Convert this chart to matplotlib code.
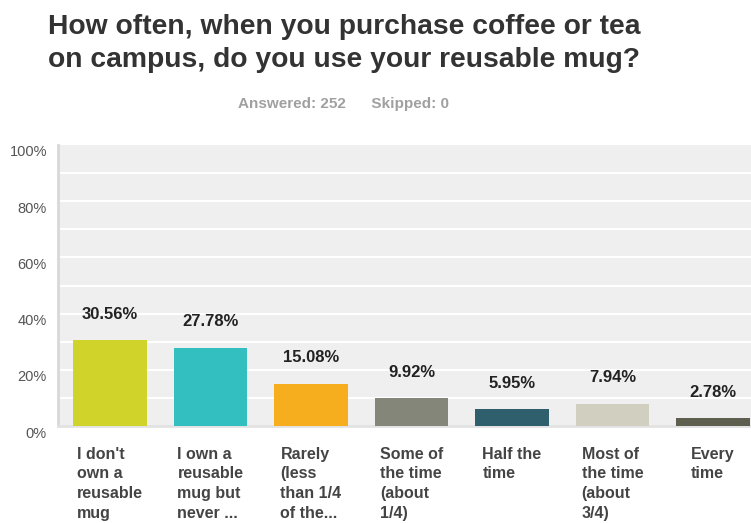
import matplotlib
matplotlib.use("Agg")
import matplotlib.pyplot as plt
import matplotlib.transforms as mtransforms
import numpy as np

plt.rcParams['font.family'] = ['Liberation Sans', 'DejaVu Sans']

# survey answers and their share of respondents (%)
answers = ["I don't\nown a\nreusable\nmug",
           "I own a\nreusable\nmug but\nnever ...",
           "Rarely\n(less\nthan 1/4\nof the...",
           "Some of\nthe time\n(about\n1/4)",
           "Half the\ntime",
           "Most of\nthe time\n(about\n3/4)",
           "Every\ntime"]
shares = [30.56, 27.78, 15.08, 9.92, 5.95, 7.94, 2.78]
bar_colors = ['#D0D42A', '#33BEBF', '#F6AE1F', '#84867A', '#2F5F6C', '#D1CFC0', '#5F5F50']
yticks = [0, 20, 40, 60, 80, 100]
title_lines = ['How often, when you purchase coffee or tea',
               'on campus, do you use your reusable mug?']

fig = plt.figure(figsize=(7.51, 5.23), dpi=100)
ax = fig.add_axes([58 / 751, 97 / 523, 1 - 58 / 751, 281 / 523])
ax.set_facecolor('#EFEFEF')

x = np.arange(len(shares))
ax.bar(x, shares, width=0.73, color=bar_colors, zorder=3)

# white grid every 10%
for g in range(10, 100, 10):
    ax.axhline(g, color='white', lw=1.5, zorder=1)

ax.set_xlim(-0.517, 6.378)
ax.set_ylim(0, 100)
ax.set_yticks(yticks)
ax.set_yticklabels([f'{t}%' for t in yticks], color='#555555', fontsize=10.5)
ax.tick_params(axis='y', length=0, pad=8)
ax.set_xticks([])
shift = mtransforms.ScaledTranslation(0, -6 / 100, fig.dpi_scale_trans)
for lbl in ax.get_yticklabels():
    lbl.set_transform(lbl.get_transform() + shift)

for side in ['top', 'right']:
    ax.spines[side].set_visible(False)
ax.spines['left'].set_color('#D8D8D8')
ax.spines['left'].set_linewidth(2)
ax.spines['bottom'].set_color('#E2E2E2')
ax.spines['bottom'].set_linewidth(2)

# value labels above bars
for xi, v in zip(x, shares):
    ax.annotate(f'{v:.2f}%', (xi, v), xytext=(0, 15.5), textcoords='offset points',
                ha='center', va='baseline', fontsize=12, fontweight='bold', color='#222222')

# category labels under the bars
for xi, a in zip(x, answers):
    ax.annotate(a, (xi, 0), xytext=(0, -15), textcoords='offset points',
                ha='center', va='top', multialignment='left', fontsize=11.5,
                fontweight='bold', color='#444444', linespacing=1.38,
                annotation_clip=False)

for i, line in enumerate(title_lines):
    fig.text(48 / 751, 1 - (34 + 33 * i) / 523, line, ha='left', va='baseline',
             fontsize=20.3, fontweight='bold', color='#333333')
fig.text(344 / 751, 1 - 104 / 523, 'Answered: 252      Skipped: 0', ha='center', va='center',
         fontsize=11, fontweight='bold', color='#A0A0A0')

fig.savefig('out.png', dpi=100)
